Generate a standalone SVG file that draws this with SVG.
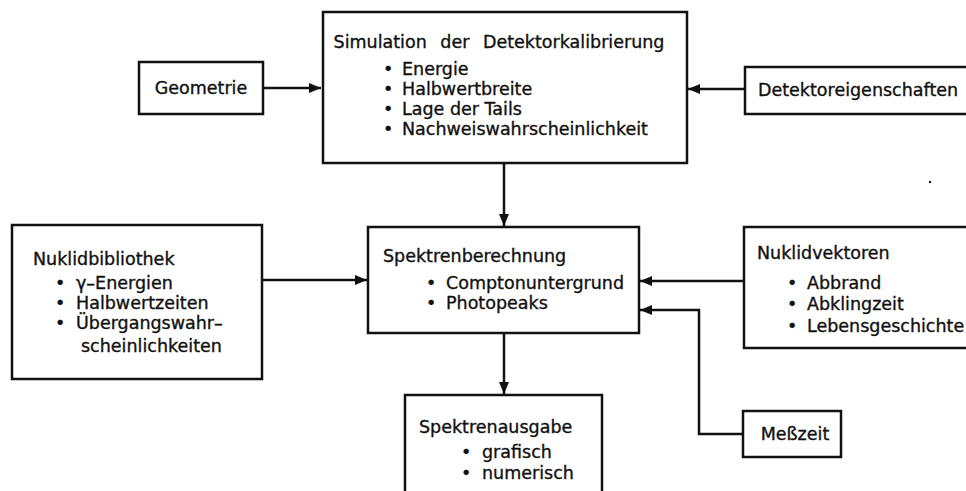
<svg xmlns="http://www.w3.org/2000/svg" width="966" height="491" viewBox="0 0 966 491">
<style>
.box{fill:#fff;stroke:#111;stroke-width:2.5}
.t{font-family:"DejaVu Sans","Liberation Sans",sans-serif;font-size:17.5px;fill:#111;stroke:#111;stroke-width:0.35}
.c{fill:none;stroke:#111;stroke-width:2.5}
</style>
<defs>
<marker id="ah" markerUnits="userSpaceOnUse" markerWidth="14" markerHeight="12" refX="12" refY="6" orient="auto">
<path d="M0,1 L12,6 L0,11 Z" fill="#111"/>
</marker>
</defs>
<rect width="966" height="491" fill="#fff"/>
<g id="connectors">
<line class="c" x1="263" y1="88" x2="321" y2="88" marker-end="url(#ah)"/>
<line class="c" x1="745" y1="89" x2="688" y2="89" marker-end="url(#ah)"/>
<line class="c" x1="504" y1="163" x2="504" y2="226" marker-end="url(#ah)"/>
<line class="c" x1="262" y1="280" x2="367" y2="280" marker-end="url(#ah)"/>
<line class="c" x1="744" y1="281" x2="640" y2="281" marker-end="url(#ah)"/>
<path class="c" d="M743,434 H699 V310 H640" marker-end="url(#ah)"/>
<line class="c" x1="504" y1="333" x2="504" y2="394" marker-end="url(#ah)"/>
</g>
<g id="simulation">
<rect class="box" x="323" y="12" width="364" height="151"/>
<text class="t" x="499" y="48" text-anchor="middle" word-spacing="8">Simulation der Detektorkalibrierung</text>
<text class="t"><tspan x="383" y="75">•</tspan><tspan x="402" y="75">Energie</tspan></text>
<text class="t"><tspan x="383" y="95">•</tspan><tspan x="402" y="95">Halbwertbreite</tspan></text>
<text class="t"><tspan x="383" y="115">•</tspan><tspan x="402" y="115">Lage der Tails</tspan></text>
<text class="t"><tspan x="383" y="135">•</tspan><tspan x="402" y="135">Nachweiswahrscheinlichkeit</tspan></text>
</g>
<g id="geometrie">
<rect class="box" x="139" y="62" width="124" height="52"/>
<text class="t" x="201" y="94" text-anchor="middle">Geometrie</text>
</g>
<g id="detektoreigenschaften">
<rect class="box" x="745" y="67" width="240" height="47"/>
<text class="t" x="758" y="96">Detektoreigenschaften</text>
</g>
<g id="nuklidbibliothek">
<rect class="box" x="12" y="225" width="250" height="154"/>
<text class="t" x="33" y="265">Nuklidbibliothek</text>
<text class="t"><tspan x="55" y="289">•</tspan><tspan x="76" y="289">γ–Energien</tspan></text>
<text class="t"><tspan x="55" y="309">•</tspan><tspan x="76" y="309">Halbwertzeiten</tspan></text>
<text class="t"><tspan x="55" y="329">•</tspan><tspan x="76" y="329">Übergangswahr–</tspan></text>
<text class="t" x="81" y="352">scheinlichkeiten</text>
</g>
<g id="spektrenberechnung">
<rect class="box" x="368" y="227" width="271" height="106"/>
<text class="t" x="383" y="262">Spektrenberechnung</text>
<text class="t"><tspan x="426" y="289">•</tspan><tspan x="446" y="289">Comptonuntergrund</tspan></text>
<text class="t"><tspan x="426" y="309">•</tspan><tspan x="446" y="309">Photopeaks</tspan></text>
</g>
<g id="nuklidvektoren">
<rect class="box" x="744" y="227" width="240" height="121"/>
<text class="t" x="757" y="259">Nuklidvektoren</text>
<text class="t"><tspan x="787" y="289">•</tspan><tspan x="807" y="289">Abbrand</tspan></text>
<text class="t"><tspan x="787" y="310">•</tspan><tspan x="807" y="310">Abklingzeit</tspan></text>
<text class="t"><tspan x="787" y="332">•</tspan><tspan x="807" y="332">Lebensgeschichte</tspan></text>
</g>
<g id="spektrenausgabe">
<rect class="box" x="405" y="395" width="197" height="110"/>
<text class="t" x="419" y="433">Spektrenausgabe</text>
<text class="t"><tspan x="461" y="458">•</tspan><tspan x="482" y="458">grafisch</tspan></text>
<text class="t"><tspan x="461" y="479">•</tspan><tspan x="482" y="479">numerisch</tspan></text>
</g>
<g id="messzeit">
<rect class="box" x="743" y="411" width="98" height="46"/>
<text class="t" x="795" y="440" text-anchor="middle">Meßzeit</text>
</g>
<circle cx="930" cy="182" r="1.2" fill="#111"/>
</svg>
